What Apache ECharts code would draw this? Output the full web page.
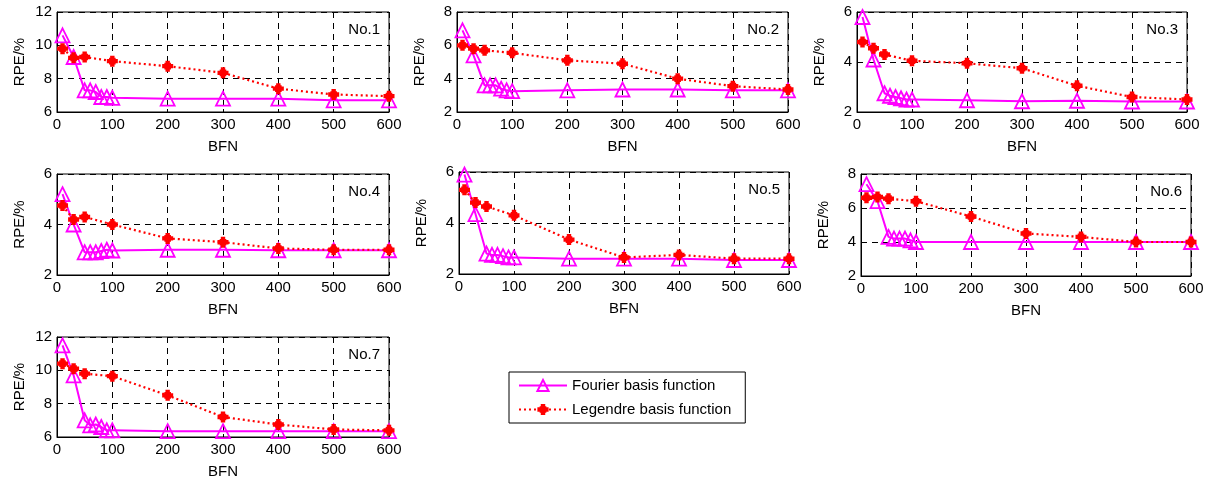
<!DOCTYPE html>
<html>
<head>
<meta charset="utf-8">
<script src="https://cdn.jsdelivr.net/npm/echarts@6/dist/echarts.min.js"></script>
<style>
  body { margin: 0; background: #fff; }
  #chart { width: 1210px; height: 482px; }
</style>
</head>
<body>
<div id="chart"></div>
<script>
  // BFN values (x axis)
  const bfnFourier = [10, 30, 50, 60, 70, 80, 90, 100, 200, 300, 400, 500, 600]
  const bfnLegendre = [10, 30, 50, 100, 200, 300, 400, 500, 600]

  // RPE (%) per case
  const fourier1 = [10.6, 9.3, 7.3, 7.3, 7.2, 6.9, 6.9, 6.85, 6.8, 6.8, 6.8, 6.7, 6.7]
  const legendre1 = [9.8, 9.25, 9.3, 9.05, 8.75, 8.35, 7.4, 7.05, 6.95]
  const fourier2 = [6.9, 5.4, 3.6, 3.6, 3.6, 3.4, 3.3, 3.25, 3.3, 3.35, 3.35, 3.3, 3.3]
  const legendre2 = [6.0, 5.8, 5.7, 5.55, 5.1, 4.9, 4.0, 3.55, 3.35]
  const fourier3 = [5.8, 4.1, 2.75, 2.65, 2.6, 2.55, 2.5, 2.5, 2.47, 2.43, 2.45, 2.42, 2.42]
  const legendre3 = [4.8, 4.55, 4.3, 4.05, 3.95, 3.75, 3.05, 2.6, 2.5]
  const fourier4 = [5.2, 4.0, 2.9, 2.9, 2.9, 2.95, 3.0, 2.97, 3.0, 3.0, 2.98, 2.98, 2.98]
  const legendre4 = [4.75, 4.2, 4.3, 4.0, 3.45, 3.3, 3.05, 3.0, 3.0]
  const fourier5 = [5.9, 4.35, 2.8, 2.75, 2.75, 2.7, 2.65, 2.65, 2.6, 2.6, 2.6, 2.55, 2.55]
  const legendre5 = [5.3, 4.8, 4.65, 4.3, 3.35, 2.65, 2.75, 2.6, 2.6]
  const fourier6 = [7.4, 6.4, 4.3, 4.2, 4.2, 4.2, 4.1, 4.0, 4.0, 4.0, 4.0, 4.0, 4.0]
  const legendre6 = [6.6, 6.65, 6.55, 6.4, 5.5, 4.5, 4.3, 4.0, 4.0]
  const fourier7 = [11.5, 9.7, 7.0, 6.7, 6.75, 6.6, 6.4, 6.4, 6.35, 6.35, 6.35, 6.35, 6.35]
  const legendre7 = [10.4, 10.1, 9.8, 9.65, 8.5, 7.2, 6.75, 6.45, 6.4]

  const panelNames = ['No.1', 'No.2', 'No.3', 'No.4', 'No.5', 'No.6', 'No.7']
  const yMin = [6, 2, 2, 2, 2, 2, 6]
  const yMax = [12, 8, 6, 6, 6, 8, 12]
  const fourierAll = [fourier1, fourier2, fourier3, fourier4, fourier5, fourier6, fourier7]
  const legendreAll = [legendre1, legendre2, legendre3, legendre4, legendre5, legendre6, legendre7]

  // plot rectangles [left, top, width, height]
  const rects = [
    [57, 12, 332, 100], [457, 12, 331, 100], [857, 12, 330, 100],
    [57, 174, 332, 101], [459, 172, 330, 102], [861, 174, 330, 102],
    [57, 337, 332, 100]
  ]

  const font = 'Liberation Sans, Arial, sans-serif'
  // filled plus-like marker
  const starPath = 'path://M3,0H7V2H8V3H10V7H8V8H7V10H3V8H2V7H0V3H2V2H3Z'
  const dashed = { show: true, lineStyle: { color: '#000', type: [6, 5], width: 1 } }

  const grid = [], xAxis = [], yAxis = [], series = [], graphic = []
  rects.forEach((r, i) => {
    grid.push({ left: r[0], top: r[1], width: r[2], height: r[3], show: true, borderColor: '#000', borderWidth: 1, backgroundColor: '#fff' })
    xAxis.push({
      gridIndex: i, type: 'value', min: 0, max: 600, interval: 100,
      name: 'BFN', nameLocation: 'middle', nameGap: 27,
      nameTextStyle: { color: '#000', fontSize: 15, fontFamily: font },
      axisLine: { lineStyle: { color: '#000' } },
      axisTick: { inside: true, length: 3, lineStyle: { color: '#000' } },
      axisLabel: { color: '#000', fontSize: 15, fontFamily: font, margin: 5 },
      splitLine: dashed
    })
    yAxis.push({
      gridIndex: i, type: 'value', min: yMin[i], max: yMax[i], interval: 2,
      name: 'RPE/%', nameLocation: 'middle', nameGap: 30, nameRotate: 90,
      nameTextStyle: { color: '#000', fontSize: 15, fontFamily: font },
      axisLine: { show: true, lineStyle: { color: '#000' } },
      axisTick: { inside: true, length: 3, lineStyle: { color: '#000' } },
      axisLabel: { color: '#000', fontSize: 15, fontFamily: font, margin: 5 },
      splitLine: dashed
    })
    series.push({
      name: 'Fourier basis function', type: 'line', xAxisIndex: i, yAxisIndex: i,
      data: bfnFourier.map((x, k) => [x, fourierAll[i][k]]),
      symbol: 'triangle', symbolSize: 14,
      lineStyle: { color: '#ff00ff', width: 2 },
      itemStyle: { color: 'rgba(255,255,255,0)', borderColor: '#ff00ff', borderWidth: 1.8 },
      z: 3, animation: false
    })
    series.push({
      name: 'Legendre basis function', type: 'line', xAxisIndex: i, yAxisIndex: i,
      data: bfnLegendre.map((x, k) => [x, legendreAll[i][k]]),
      symbol: starPath, symbolSize: 11,
      lineStyle: { color: '#ff0000', width: 2.2, type: [2, 3] },
      itemStyle: { color: '#ff0000', borderWidth: 0 },
      z: 4, animation: false
    })
    graphic.push({
      type: 'text', right: 1210 - (r[0] + r[2]) + 9, top: r[1] + 10,
      style: { text: panelNames[i], fill: '#000', fontSize: 15, fontFamily: font },
      z: 10
    })
  })

  const chart = echarts.init(document.getElementById('chart'))
  chart.setOption({
    backgroundColor: '#fff',
    animation: false,
    grid: grid,
    xAxis: xAxis,
    yAxis: yAxis,
    series: series,
    graphic: graphic,
    legend: {
      data: ['Fourier basis function', 'Legendre basis function'],
      orient: 'vertical', left: 509, top: 372,
      itemWidth: 48, itemHeight: 14, itemGap: 9,
      padding: [6, 14, 6, 9],
      borderColor: '#000', borderWidth: 1, backgroundColor: '#fff',
      textStyle: { color: '#000', fontSize: 15, fontFamily: font }
    }
  })
  window.addEventListener('resize', chart.resize)
</script>
</body>
</html>
